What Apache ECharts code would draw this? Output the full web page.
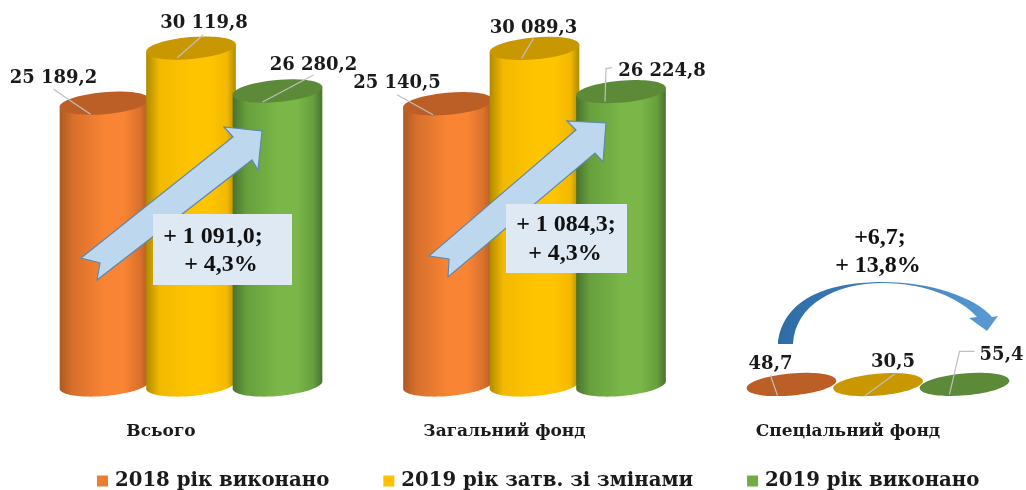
<!DOCTYPE html>
<html><head><meta charset="utf-8">
<style>html,body{margin:0;padding:0;background:#fff}#c{width:1026px;height:490px;filter:blur(0.5px)}</style>
<script src="https://cdn.jsdelivr.net/npm/echarts@6/dist/echarts.min.js"></script>
</head><body><div id="c"></div>
<script>
const categories = ['Всього', 'Загальний фонд', 'Спеціальний фонд'];
const seriesNames = ['2018 рік виконано', '2019 рік затв. зі змінами', '2019 рік виконано'];
const values2018 = [25189.2, 25140.5, 48.7];
const values2019Plan = [30119.8, 30089.3, 30.5];
const values2019 = [26280.2, 26224.8, 55.4];
const labels2018 = ['25 189,2', '25 140,5', '48,7'];
const labels2019Plan = ['30 119,8', '30 089,3', '30,5'];
const labels2019 = ['26 280,2', '26 224,8', '55,4'];

const SERIF = '"DejaVu Serif", serif';
const TIMES = '"Liberation Serif", serif';
const palette = [
  {main:'#F98433', mid:'#D8702C', edge:'#AD5A22', top:'#BC5F26', legend:'#ED7D31'},
  {main:'#FFC400', mid:'#F2B900', edge:'#B08B00', top:'#C99700', legend:'#FFC000'},
  {main:'#7AB648', mid:'#669F3C', edge:'#487230', top:'#5D8A38', legend:'#70AD47'}
];
const barOffset = [-86.5, 0, 86.5];
const barW = 90, ry = 11, tilt = 5 * Math.PI / 180;
const labelOffset = [
  [[-51,-25],[-51,-20],[-21,-20]],
  [[13,-25],[-1,-20],[15,-22]],
  [[36,-26],[41,-20],[37,-29]]
];
const leaders = [
  [[[-51,-14],[-14,11]],[[-51,-9],[-15,11]],[[-21,-9],[-14,11]]],
  [[[12,-13],[-14,10]],[[-1,-10],[-13,10]],[[17,-11],[-13,11]]],
  [[[36,-16],[-15,11]],[[-9,-24],[-15,-23],[-16,10]],[[10,-33],[-5,-33],[-15,10]]]
];

function rim(cx, cy, t) {
  const x = barW/2*Math.cos(t), y = ry*Math.sin(t);
  return [cx + x*Math.cos(tilt) + y*Math.sin(tilt), cy - x*Math.sin(tilt) + y*Math.cos(tilt)];
}
function cylinder(si, labels) {
  return function (params, api) {
    const cat = api.value(0), v = api.value(1);
    const top = api.coord([cat, v]), base = api.coord([cat, 0]);
    const cx = top[0] + barOffset[si], cy = top[1], by = base[1];
    const c = palette[si];
    const grad = new echarts.graphic.LinearGradient(0,0,1,0,[
      {offset:0,color:c.edge},{offset:0.15,color:c.mid},{offset:0.5,color:c.main},
      {offset:0.72,color:c.main},{offset:0.9,color:c.mid},{offset:1,color:c.edge}]);
    const kids = [];
    const body = [rim(cx,cy,Math.PI), rim(cx,cy,0)];
    for (let i = 0; i <= 48; i++) body.push(rim(cx, by, Math.PI*i/48));
    if (by - cy > 5) kids.push({type:'polygon', shape:{points:body}, style:{fill:grad}});
    kids.push({type:'ellipse', shape:{cx:0, cy:0, rx:barW/2, ry:ry}, x:cx, y:cy, rotation:tilt, style:{fill:c.top}});
    const pts = leaders[si][cat].map(p => [cx+p[0], cy+p[1]]);
    kids.push({type:'polyline', shape:{points:pts}, style:{fill:'none', stroke:'#BFBFBF', lineWidth:1.2}});
    const o = labelOffset[si][cat];
    kids.push({type:'text', x:cx+o[0], y:cy+o[1], style:{text:labels[cat], fill:'#1a1a1a',
      font:'bold 18px '+SERIF, align:'center', verticalAlign:'middle'}});
    return {type:'group', children:kids};
  };
}
function mkSeries(si, vals, labels) {
  return {type:'custom', name:seriesNames[si], clip:false, z:2+si,
    itemStyle:{color:palette[si].legend},
    encode:{x:0,y:1},
    renderItem:cylinder(si, labels),
    data:vals.map((v,i)=>[i,v])};
}
const arrowA = [[81,258],[100,263],[97,280],[252,160],[258,170],[262,131],[224,127],[233,137]];
const arrowB = [[429,256],[449,259],[448,277],[595,153],[603,162],[606,123],[567,121],[576,130]];
function arrow(pts) {
  return {type:'polygon', z:20, shape:{points:pts}, style:{fill:'#BDD7EE', stroke:'#5F88AC', lineWidth:1.2}};
}
function box(x,y,w,h){return {type:'rect', z:21, shape:{x,y,width:w,height:h}, style:{fill:'#DEE9F4'}};}
function txt(s,x,y){return {type:'text', z:22, x, y, style:{text:s, font:'bold 24px '+TIMES, fill:'#111', textAlign:'center', textVerticalAlign:'middle'}};}

const curved = {type:'custom', coordinateSystem:'none', silent:true, z:20, data:[0], clip:false,
  renderItem:function(){ return {type:'path', shape:{
    pathData:'M778 344 C780 318 800 282 883 282 C930 282 975 297 992 317 L998 316 L987 331 L969 318 L977 317 C960 298 925 283 883 283 C835 283 795 305 793 344 Z',
    layout:'cover', x:778, y:282, width:220, height:62},
    style:{fill:new echarts.graphic.LinearGradient(0,0,1,0,[{offset:0,color:'#2E6CA5'},{offset:0.5,color:'#3E7FBD'},{offset:1,color:'#5B9BD5'}])}}; }};

const chart = echarts.init(document.getElementById('c'), null, {renderer:'canvas'});
chart.setOption({
  animation:false,
  backgroundColor:'#fff',
  grid:{left:19.25, top:27, width:1030.5, height:358, outerBoundsMode:'none'},
  xAxis:{type:'category', data:categories, axisLine:{show:false}, axisTick:{show:false},
    axisLabel:{margin:38, interval:0, padding:[0,60,0,0], color:'#1a1a1a', fontFamily:SERIF, fontWeight:'bold', fontSize:17}},
  yAxis:{type:'value', min:0, max:32000, show:false},
  legend:{left:92, top:466, itemWidth:11, itemHeight:11, itemGap:54, icon:'rect',
    data:seriesNames, textStyle:{color:'#1a1a1a', fontFamily:SERIF, fontWeight:'bold', fontSize:19.7, padding:[0,0,0,2]}},
  series:[mkSeries(0,values2018,labels2018), mkSeries(1,values2019Plan,labels2019Plan), mkSeries(2,values2019,labels2019), curved],
  graphic:{elements:[
    arrow(arrowA), box(153,214,139,71), txt('+ 1 091,0;',213,237), txt('+ 4,3%',221,265),
    arrow(arrowB), box(506,204,121,69), txt('+ 1 084,3;',566,225), txt('+ 4,3%',565,254),
    txt('+6,7;',880,238), txt('+ 13,8%',878,266)
  ]}
});
</script></body></html>
